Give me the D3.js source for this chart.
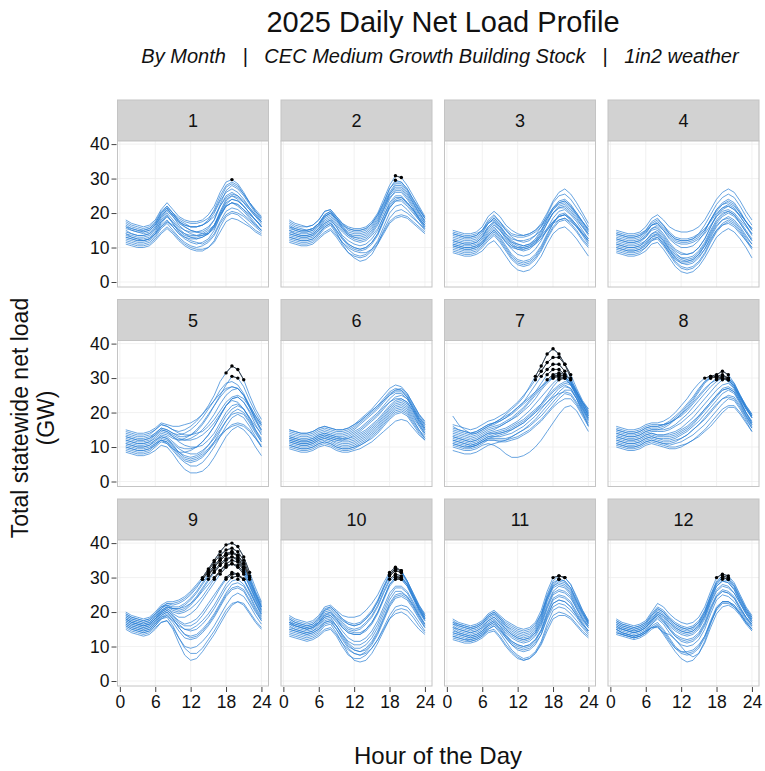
<!DOCTYPE html>
<html>
<head>
<meta charset="utf-8">
<script src="https://cdn.jsdelivr.net/npm/d3@7"></script>
<style>
  body { margin: 0; background: #fff; }
  text { font-family: "Liberation Sans", Arial, Helvetica, sans-serif; fill: #111; }
</style>
</head>
<body>
<svg id="chart" width="765" height="771"></svg>
<script>
// hourly values (GW), one row per day shown
const hours = [1,2,3,4,5,6,7,8,9,10,11,12,13,14,15,16,17,18,19,20,21,22,23,24];
const months = ["1","2","3","4","5","6","7","8","9","10","11","12"];
const yTicks = [0, 10, 20, 30, 40];
const xTicks = [0, 6, 12, 18, 24];
const peakLevel = 29.5; // points above this get a black dot

const m1 = [
  [18,17,16.5,16,16.5,18,21,23,21,19,18,17.5,17.5,18,19.5,22,26,29,29.7,28.5,26,23,21,19],
  [17,16,15.5,15,15.5,17,20,22,20,18,17,16,16,16.5,18,21,25,28,29,28,25.5,23,20.5,18.5],
  [16,15,14.5,14,14.5,16,19,21,19.5,17.5,16.5,16,16,16.5,17.5,20,23.5,26,27,26,24,21.5,19.5,17.5],
  [15,14,13.5,13.5,14,15.5,18,20,18,16,15,14.5,14.5,15,16,18,22,25,26,25,23,21,19,17],
  [14,13,12.5,12,12.5,14,17,19,17.5,15.5,14,13,12.5,13,14,16.5,20,23,24,23.5,22,20,18,16],
  [13,12.5,12,12,12.5,14,16.5,18,16,14,12.5,11.5,11,11.5,12.5,15,19,22,23,22,20.5,18.5,16.5,15],
  [13.5,13,12.5,12.5,13,14.5,17.5,19.5,17,14.5,13,12,11.5,11,12,14,17.5,20.5,21.5,21,19.5,18,16.5,15],
  [12,11.5,11,11,11.5,13,15.5,17,15,13,11.5,10.5,10,10.5,11.5,13.5,17,19.5,20.5,20,19,17.5,16,14.5],
  [16.5,15.5,15,15,15.5,17,20,21.5,19,16.5,15,14,13.5,13.5,14,16,20,23.5,25,24.5,23,21,19,17.5],
  [11,10.5,10,10,10.5,12,14,15.5,14,12,10.5,9.5,9,9,10,12,16,19,20,19.5,18,16.5,15,14],
  [14.5,14,13.5,13.5,14,15.5,18.5,20.5,19,17,16,15,14.5,14,14,15.5,19,22,23,22.5,21,19.5,18,16],
  [17.5,16.5,16,15.5,16,17.5,20.5,22,20,17.5,16,15,14.5,14.5,15.5,18,22.5,26.5,28,27,25,22.5,20,18],
  [12.5,12,11.5,11.5,12,13.5,16,17.5,16,14,13,12.5,12.5,13,14,16,19.5,22.5,24,23.5,22,20,18,16],
  [15.5,15,14.5,14.5,15,16.5,19,21,19.5,17.5,16.5,16,16,16.5,17.5,19,22,24.5,25.5,25,23.5,21.5,19.5,17.5],
  [16,15.5,15,14.5,15,16.5,19.5,21.5,20,18.5,17.5,17,17,17.5,18.5,20.5,24,27.5,28.5,27.5,25.5,23,20.5,18.5],
  [11.5,11,10.5,10.5,11,12.5,14.5,16,14.5,12.5,11,10,9.5,9.5,10,11.5,14.5,17.5,18.5,18,17,16,14.5,13.5],
  [14,13.5,13,13,13.5,15,17.5,19,17,15,13.5,13,13,13.5,14.5,16.5,20.5,24,25,24,22,20,18,16.5],
  [13,12.5,12,12,12.5,14,16,17.5,16.5,15,14,13.5,13.5,14,15,16.5,19.5,22,23,22.5,21,19,17,15]
];
const m2 = [
  [18,17,16.5,16,16.5,18,20.5,21,19,17,16,15.5,15.5,16,17.5,20,24,28,30.8,30.3,28,25,22,19],
  [17,16,15.5,15,15.5,17,19.5,20.5,18.5,16.5,15.5,15,15,15.5,17,19.5,23,27,29.5,29,27,24,21,18.5],
  [16,15,14.5,14.5,15,16.5,19,20,18,16,14.5,14,14,14.5,16,18.5,22,25.5,27.5,27.5,25.5,23,20,17.5],
  [15,14,13.5,13.5,14,15.5,18,19,17,15,13.5,13,13,13.5,15,17.5,21,24.5,26,26,24,21.5,19,17],
  [14,13.5,13,13,13.5,15,17,18,16,13.5,12,11,10.5,11,12.5,15,19,23,25,25,23,21,18.5,16.5],
  [13.5,13,12.5,12.5,13,14.5,16.5,17.5,15,12.5,11,10,9.5,10,11.5,14,18,21.5,23.5,23.5,22,20,18,16],
  [12.5,12,11.5,11.5,12,13.5,15.5,16.5,14,11.5,9.5,8,7.5,8,9.5,12,16,20,22,22.5,21,19,17,15.5],
  [13,12.5,12,12,12.5,14,16,17,14.5,11,8.5,7,6,6.5,8,11,15,18.5,20.5,21,20,18.5,17,15],
  [16.5,15.5,15,15,15.5,17,19.5,20.5,18.5,16,14,13,12.5,13,14.5,17,21,25,27,27,25,22.5,20,18],
  [12,11.5,11,11,11.5,13,14.5,15.5,13.5,11.5,10,9,8.5,8.5,9.5,11.5,14.5,17.5,19,19.5,19,17.5,16,14.5],
  [15.5,15,14.5,14.5,15,16.5,19,20,18,15.5,13.5,12.5,12,12.5,14,16.5,20,24,26.5,26.5,24.5,22,19.5,17],
  [14.5,14,13.5,13.5,14,15.5,17.5,18.5,16.5,14.5,13,12,11.5,12,13.5,15.5,19,22.5,24.5,24.5,23,21,18.5,16.5],
  [13,12.5,12,12,12.5,14,16,17,15,12.5,10.5,9.5,9,9.5,11,13.5,17.5,21.5,23.5,24,22.5,20.5,18,15.5],
  [15,14.5,14,14,14.5,16,18.5,19.5,17.5,15.5,14,13.5,13.5,14,15.5,18,21.5,25.5,28,28,26,23,20.5,17.5],
  [16,15.5,15,15,15.5,17,19,20,18.5,16.5,15,14.5,14.5,15,16.5,19,22.5,26,28.5,28.5,26.5,23.5,21,18.5],
  [11.5,11,10.5,10.5,11,12.5,14,15,13,10.5,8.5,7.5,7,7.5,9,11,14,17,18.5,19,18.5,17,15.5,14],
  [14,13.5,13,13,13.5,15,17,18,16,13,11,10,9.5,10,11.5,14,18,22,24,24.5,23,21,18.5,16],
  [17.5,16.5,16,16,16.5,18,20.5,21,19,17,15.5,15,15,15.5,17,19.5,23,27,29,29,27,24,21.5,18.5]
];
const m3 = [
  [15,14.5,14,14,14.5,16,19,20.5,19,16.5,15,14,13.5,14,15,17,20,23.5,26,27,25.5,23,20,17],
  [14,13.5,13,13,13.5,15,18,19.5,17.5,15,13,12,11.5,12,13.5,16,19.5,23,25,25.5,24,21.5,19,16],
  [13,12.5,12,12,12.5,14,17,18.5,16.5,14,12,11,10.5,11,12.5,15,18.5,21.5,23.5,24,22.5,20,17.5,15],
  [12,11.5,11,11,11.5,13,15.5,17,15,12.5,10.5,9.5,9,9.5,11,13.5,17,20,22,22.5,21,19,16.5,14],
  [11,10.5,10,10,10.5,12,14.5,16,14,11.5,9.5,8,7.5,8,9.5,12,15.5,18.5,20.5,21,19.5,17.5,15,12.5],
  [10,9.5,9,9,9.5,11,13.5,15,13,10.5,8,6.5,6,6.5,8,10.5,14,17,19,19.5,18,16,13.5,11],
  [9,8.5,8,8,8.5,10,12,13.5,11.5,9,6.5,5,4.5,5,6.5,9,12.5,15.5,17.5,18,16.5,14.5,12,10],
  [8.5,8,7.5,7.5,8,9,11,12,10,7.5,5,3.5,3,3.5,5,7.5,11,14,15.5,16,14.5,12.5,10,7.5],
  [12.5,12,11.5,11.5,12,13.5,16,17.5,15.5,13,11,10,9.5,10,11.5,14,17,20,21.5,21.5,20,18,16,14],
  [11.5,11,10.5,10.5,11,12.5,15,16.5,15,13,11.5,11,10.5,11,12,13.5,15.5,17.5,19,19.5,18,16,14,12],
  [10.5,10,9.5,9.5,10,11,13,14.5,12.5,10,7.5,6,5.5,6,7.5,10,13.5,17,19.5,20,18.5,16.5,14,11.5],
  [14.5,14,13.5,13.5,14,15,17,18.5,17,15,13.5,13,13,13.5,14.5,16,18.5,21,22.5,23,21.5,19.5,17.5,15.5],
  [13.5,13,12.5,12.5,13,14.5,17,18,16,13.5,11.5,10.5,10,10.5,12,14.5,18,21,23,23.5,22,19.5,17,14.5],
  [11,10.5,10,10,10.5,11.5,13.5,15,13.5,11.5,10,9.5,9.5,10,11,12.5,15,17.5,19,19.5,18.5,16.5,14.5,12.5],
  [12,11.5,11,11,11.5,13,16,17.5,16,14,12.5,12,12,12.5,13.5,15,17.5,20,21.5,22,20.5,18.5,16,13.5],
  [9.5,9,8.5,8.5,9,10.5,12.5,14,12,9.5,7,5.5,5,5.5,7,9.5,13,16,18,18.5,17,15,12.5,10.5],
  [14,13.5,13,13,13.5,15,17.5,19,17.5,15.5,14,13.5,13.5,14,15,16.5,19,21.5,23,23.5,22,20,17.5,15],
  [10.5,10,9.5,9.5,10,11.5,14,15.5,14,12,10.5,10,10,10.5,11.5,13,15,17,18,18.5,17.5,16,14,12]
];
const m4 = [
  [15,14.5,14,14,14.5,16,18.5,19.5,18,16,15,14.5,14.5,15,16,18,21,24,26,27,26,23.5,20.5,18],
  [14,13.5,13,13,13.5,15,17.5,18.5,16.5,14,12.5,12,12,12.5,14,16.5,19.5,22.5,24.5,25.5,24.5,22,19,16.5],
  [13,12.5,12,12,12.5,14,16.5,17,15,12.5,11,10,10,10.5,12,14.5,18,21,23,24,23,20.5,17.5,15],
  [12,11.5,11,11,11.5,13,15.5,16,14,11.5,9.5,8.5,8,8.5,10,12.5,16,19,21,22,21,19,16.5,14],
  [11,10.5,10,10,10.5,12,14,15,13,10.5,8.5,7,6.5,7,8.5,11,14.5,17.5,19.5,20.5,19.5,17.5,15,12.5],
  [10,9.5,9,9,9.5,11,13,14,12,9.5,7,5.5,5,5.5,7,9.5,13,16,18,19,18,16,13.5,11],
  [9,8.5,8,8,8.5,10,12,12.5,10.5,8,5.5,4,3.5,4,5.5,8,11.5,14.5,16.5,17.5,16.5,14.5,12,9.5],
  [8.5,8,7.5,7.5,8,9,11,11.5,9.5,7,4.5,3,2.5,3,4.5,7,10,13,14.5,15.5,14.5,12.5,10,7],
  [12.5,12,11.5,11.5,12,13.5,15.5,16.5,15,13,11.5,11,11,11.5,12.5,14,16.5,19,20.5,21,20,18,16,14],
  [11.5,11,10.5,10.5,11,12,14,14.5,12.5,10,8,7,7,7.5,9,11.5,15,18,20,20.5,19.5,17,14.5,12],
  [10,9.5,9,9,9.5,10.5,12.5,13,11,8.5,6.5,5.5,5.5,6,7.5,9.5,12.5,15,16.5,17,16,14,12,10],
  [14.5,14,13.5,13.5,14,15,17,18,16.5,14.5,13,12.5,12.5,13,14,15.5,17.5,20,21.5,22,21,19.5,17.5,15.5],
  [13.5,13,12.5,12.5,13,14.5,16.5,17.5,16,14,12.5,12,12,12.5,13.5,15,18,21,22.5,23.5,22.5,20,17.5,15],
  [11,10.5,10,10,10.5,11.5,13.5,14,12,9.5,7.5,6.5,6,6.5,8,10.5,14,17,19,20,19,17,14.5,12],
  [9.5,9,8.5,8.5,9,10,12,13,11,8.5,6,4.5,4,4.5,6,8.5,12,15,17,18,17,15,12.5,10],
  [12.5,12,11.5,11.5,12,13,15,15.5,13.5,11,9,8,8,8.5,10,12.5,16,19.5,21.5,22.5,21.5,19,16.5,13.5],
  [14,13.5,13,13,13.5,14.5,16.5,17,15.5,13.5,12,11.5,11.5,12,13,15,18,20.5,22.5,23,22,20,17.5,15.5],
  [10.5,10,9.5,9.5,10,11,13,13.5,11.5,9,7,6,6,6.5,8,10.5,13.5,16.5,18,18.5,17.5,15.5,13,11]
];
const m5 = [
  [14,13.5,13,13,13.5,15,16.5,16,15,14.5,15,16,17.5,19.5,22,25,29,31.5,33.5,32.5,29.5,25,21,18],
  [13,12.5,12,12,12.5,14,15.5,15,14,13.5,14,15,16.5,18.5,21,23.5,26.5,28.5,29,28,25.5,22,19,16.5],
  [12,11.5,11,11,11.5,13,14.5,14,13,12,12,12.5,13.5,15,17,19.5,22.5,25,26.5,27,25,21.5,18,15],
  [11,10.5,10,10,10.5,12,13.5,13,11.5,10,9.5,9.5,10,11.5,13.5,16,19,22,24,24.5,23,20,16.5,13.5],
  [10,9.5,9,9,9.5,11,12.5,12,10.5,8.5,7.5,7,7.5,8.5,10.5,13,16,19,21,22,21,18.5,15,12],
  [9,8.5,8,8,8.5,10,11.5,11,9,7,5.5,4.5,4.5,5.5,7.5,10,13,16,18.5,19.5,18.5,16,13,10],
  [8.5,8,7.5,7.5,8,9,10.5,10,8,5.5,3.5,2.5,2.5,3,4.5,7,10,13,15,16,15,13,10,7.5],
  [12.5,12,11.5,11.5,12,13.5,15,14.5,13,11.5,10.5,10,10,10.5,12,14,17,20,22,22.5,21,18.5,16,14],
  [14.5,14,13.5,13.5,14,15,16.5,16,15,14,13.5,13.5,14,14.5,16,18,20.5,23,24.5,25,24,21.5,18.5,16],
  [11.5,11,10.5,10.5,11,12,13,12.5,10.5,8.5,7,6.5,7,8,9.5,11.5,13.5,15,16,16.5,16,14.5,12.5,10.5],
  [10.5,10,9.5,9.5,10,11,12,11,9.5,8.5,8.5,9,10,11.5,13.5,16,19,22,23.5,23,21,18,15,12.5],
  [13.5,13,12.5,12.5,13,14,15.5,15,14,13,13,13.5,14.5,16.5,19,22,25,28,30.5,30,27.5,23.5,20,17],
  [12,11.5,11,11,11.5,12.5,14,13.5,12.5,12,12.5,13.5,15,17,19.5,22,24.5,26.5,27.5,27,25,21.5,18,15],
  [9.5,9,8.5,8.5,9,10.5,12,11.5,9.5,7.5,6,5.5,6,7,9,11.5,14.5,17.5,20,21,20,17.5,14.5,11.5],
  [15,14.5,14,14,14.5,15.5,17,16.5,16,16,16.5,17,18,19.5,21.5,23.5,25.5,27,27.5,27,25,22,19,16.5],
  [11,10.5,10,10,10.5,11.5,13,12.5,11,9.5,8.5,8,8,9,10.5,12.5,15,17.5,19.5,20,19.5,17,14,11.5],
  [13,12.5,12,12,12.5,13.5,15,14.5,13.5,12.5,12,12,12.5,13.5,15,17,19.5,22,24,24.5,23,20.5,17.5,14.5],
  [10,9.5,9,9,9.5,10.5,12,11.5,10,8,6.5,6,6.5,7.5,9,11,13,15,16.5,17,16.5,15,12.5,10]
];
const m6 = [
  [15,14.5,14,14,14.5,15.5,16,15.5,15,15,15.5,16.5,18,19.5,21,23,25,27,28,27.5,25.5,22.5,19.5,17.5],
  [14,13.5,13,13,13.5,14.5,15,14.5,14,14,14.5,15.5,17,18.5,20,21.5,23.5,25.5,26.5,26.5,25,22,19,16.5],
  [13,12.5,12,12,12.5,13.5,14,13.5,13,13,13.5,14.5,15.5,17,18.5,20,22,24,25.5,25.5,24,21,18,15.5],
  [12,11.5,11,11,11.5,12.5,13,12.5,12,11.5,11.5,12,13,14,15.5,17,19,21,22.5,23,22,19.5,16.5,14],
  [11,10.5,10,10,10.5,11.5,12,11.5,10.5,10,10,10.5,11.5,12.5,14,15.5,17.5,19.5,21,21.5,20.5,18,15,12.5],
  [10,9.5,9,9,9.5,10.5,11,10.5,9.5,9,9,9.5,10.5,11.5,12.5,14,16,18,19.5,20,19,16.5,14,12],
  [9.5,9,8.5,8.5,9,10,10.5,10,9,8.5,8.5,9,9.5,10.5,11.5,13,14.5,16,17.5,18,17.5,15.5,13.5,12],
  [12.5,12,11.5,11.5,12,13,13.5,13,12.5,12.5,13,14,15,16.5,18,19.5,21.5,23,24,24,23,20.5,17.5,15],
  [13.5,13,12.5,12.5,13,14,14.5,14,13.5,13.5,14,15,16.5,18,19.5,21,23,25,26.5,27,25.5,22.5,19.5,17],
  [11.5,11,10.5,10.5,11,12,12.5,12,11.5,11,11,11.5,12.5,13.5,15,16.5,18.5,20.5,22,22.5,21.5,19,16.5,14],
  [10.5,10,9.5,9.5,10,11,11.5,11,10,9.5,9.5,10,11,12,13.5,15,17,19,20.5,21,20,17.5,15,13],
  [14.5,14,13.5,13.5,14,15,15.5,15,14.5,14.5,15,16,17.5,19,20.5,22,24,26,27,26.5,24.5,21.5,18.5,16],
  [12,11.5,11,11,11.5,12.5,13,12.5,12,12,12.5,13.5,14.5,16,17.5,19,21,23,24.5,25,24,21,18,15.5],
  [13,12.5,12,12,12.5,13.5,14,13.5,13,12.5,12.5,13,14,15,16.5,18,20,22,23.5,24,23,20.5,17.5,15],
  [10.5,10,9.5,9.5,10,11,11.5,11,10,9.5,9.5,10,10.5,11.5,13,14.5,16.5,18.5,20,20.5,19.5,17,14.5,12.5],
  [15,14.5,14,14,14.5,15.5,16,15.5,15,15,15.5,16.5,17.5,19,20.5,22,23.5,25,26,26,24.5,21.5,18.5,16.5],
  [11.5,11,10.5,10.5,11,12,12.5,12,11,10.5,10.5,11,12,13,14.5,16,18,20,21.5,22,21,18.5,16,13.5],
  [12.5,12,11.5,11.5,12,13,13.5,13,12.5,12,12,12.5,13.5,14.5,16,17.5,19.5,21.5,23,23.5,22.5,20,17,14.5]
];
const m7 = [
  [16,15,14.5,14,14.5,15.5,16.5,17,18,19.5,21,22.5,24.5,27.5,30.5,33.5,37,38.5,37,34,30,26,23,20],
  [15,14.5,14,13.5,14,15,16,16.5,17.5,18.5,20,21.5,23,25.5,28,30.5,32.5,34,34,32,29,25.5,22,19.5],
  [14,13.5,13,12.5,13,14,15,15.5,16,17,18,19.5,21,23,25,27,29,30.5,31,30.5,28.5,25,21.5,18.5],
  [13,12.5,12,11.5,12,13,14,14.5,15,15.5,16.5,17.5,19,20.5,22.5,24.5,26.5,28.5,30,30,28,24.5,21,18],
  [12,11.5,11,10.5,11,12,13,13,13,13.5,14,15,16,17.5,19,21,23,25,27,28,27,24,20.5,17.5],
  [11,10.5,10,10,10.5,11.5,12,12,12,12,12.5,13,14,15,16.5,18,20,22,24,25.5,25,22.5,19.5,16.5],
  [10,9.5,9,9,9.5,10.5,11,10.5,9.5,8,7,7,7.5,8.5,10,12,14.5,17,19.5,21.5,22,20.5,17.5,14.5],
  [19,16.5,15,14,14,15,16,17,18,19,20,21.5,23,24.5,26,27.5,29,30,30.5,30,28,25.5,23,21],
  [9,8.5,8,8,8.5,9.5,10.5,11,11.5,12,13,14,15,16.5,18,20,22,24,26,27.5,27,24,20,16],
  [12.5,12,11.5,11,11.5,12.5,13.5,14,14.5,15,16,17,18,19.5,21,22.5,24.5,26.5,28,29,28.5,26,22.5,19.5],
  [13.5,13,12.5,12,12.5,13.5,14.5,15,16,17,18,19,20.5,22,24,26.5,28.5,30,31,30.5,28.5,25,22,19],
  [15.5,15,14.5,14,14.5,15.5,16.5,17,17.5,18.5,19.5,21,22.5,24,26,28.5,31,32.5,32.5,31,29,26,23,20.5],
  [11.5,11,10.5,10,10.5,11.5,12.5,12.5,12.5,12.5,13,14,15,16,17.5,19,21,23,25,26.5,26.5,24,21,18],
  [14.5,14,13.5,13,13.5,14.5,15.5,16,16.5,17.5,18.5,20,21.5,23.5,25.5,27.5,29.5,31,31.5,31,29.5,26.5,23,20],
  [12,11.5,11,10.5,11,12,13,13.5,14,14.5,15.5,16.5,17.5,19,20.5,22.5,25,27.5,29.5,30,29,26,22.5,19],
  [13,12.5,12,11.5,12,13,14,14,14,14.5,15,16,17,18.5,20,22,24,26,27.5,28.5,28,25,21.5,18.5],
  [10.5,10,9.5,9.5,10,11,12,12,11.5,11.5,12,12.5,13.5,14.5,16,17.5,19.5,21.5,23,24,24,22,19,16],
  [16.5,16,15.5,15,15.5,16.5,17.5,18,19,20,21.5,23,25,27,29.5,32,34.5,36,36,34,31,27,23.5,21],
  [11,10.5,10,10,10.5,11.5,12.5,13,13.5,14,15,16,17,18.5,20,21.5,23,24.5,25.5,26,25.5,23,20,17]
];
const m8 = [
  [16,15.5,15,15,15.5,16.5,17,17,17.5,18.5,20,22,24,26.5,28.5,30,30.5,31,32,31,28.5,25,22,19.5],
  [15,14.5,14,14,14.5,15.5,16,16,16.5,17.5,19,20.5,22.5,24.5,27,29,30,30.5,31,30,28,24.5,21.5,19],
  [14,13.5,13,13,13.5,14.5,15,15,15,15.5,16.5,18,19.5,21.5,23.5,25.5,27.5,29,30,29.5,27.5,24,21,18.5],
  [13,12.5,12,12,12.5,13.5,14,13.5,13.5,14,14.5,15.5,17,18.5,20.5,22.5,24.5,26.5,28,28.5,27,23.5,20,17.5],
  [12,11.5,11,11,11.5,12.5,13,12.5,12,12,12.5,13.5,14.5,16,17.5,19.5,21.5,23.5,25.5,26.5,25.5,22.5,19,16.5],
  [11,10.5,10,10,10.5,11.5,12,11.5,11,10.5,11,11.5,12.5,13.5,15,16.5,18.5,20.5,22.5,24,23.5,21,18,15.5],
  [10.5,10,9.5,9.5,10,11,11.5,11,10.5,10,10,10.5,11,12,13,14.5,16,18,20,21.5,21.5,19.5,17,14.5],
  [14.5,14,13.5,13.5,14,15,15.5,15.5,16,17,18.5,20,22,24,26.5,29,30.5,30,30,29.5,27.5,24.5,21.5,19],
  [13.5,13,12.5,12.5,13,14,14.5,14.5,14.5,15,16,17,18.5,20,22,24,26,28,29.5,30,28.5,25,21.5,18.5],
  [12.5,12,11.5,11.5,12,13,13.5,13,13,13,13.5,14.5,15.5,17,19,21,23,25,27,27.5,26.5,23.5,20,17],
  [11.5,11,10.5,10.5,11,12,12.5,12,11.5,11.5,12,12.5,13.5,15,16.5,18,20,22,24,25,24.5,22,19,16],
  [15.5,15,14.5,14.5,15,16,16.5,16.5,16.5,17,18,19,20.5,22.5,24.5,26.5,28.5,30,30.5,30,28,25,22,19.5],
  [14,13.5,13,13,13.5,14.5,15,15,15.5,16.5,18,19.5,21.5,23.5,26,28.5,30,30.5,30,29,27,24,21,18.5],
  [12,11.5,11,11,11.5,12.5,13,12.5,12.5,12.5,13,14,15,16.5,18.5,20.5,22.5,24.5,26.5,27,26,23,19.5,16.5],
  [13,12.5,12,12,12.5,13.5,14,13.5,13.5,13.5,14,15,16,17.5,19,21,23,25,26.5,27,26,23,20,17],
  [11,10.5,10,10,10.5,11.5,12,11.5,11,11,11.5,12.5,13.5,15,16.5,18.5,20.5,22.5,24,24.5,24,21.5,18.5,15.5],
  [15,14.5,14,14,14.5,15.5,16,16,16.5,17,18,19.5,21,23,25,27,28.5,29.5,30,29.5,27.5,24.5,21.5,19],
  [10,9.5,9,9,9.5,10.5,11,10.5,10,9.5,9.5,10,11,12,13.5,15,17,19,21,22,22,20,17.5,14.5]
];
const m9 = [
  [20,19,18.5,18,18.5,20,22,23,23,23.5,24.5,26,28,30,32.5,35,37.5,39.5,40,39,36,31.5,27,23],
  [19.5,18.5,18,17.5,18,19.5,21.5,22.5,22,22.5,23.5,25,27,29.5,32,34.5,36.5,38,38.5,37.5,35,30.5,26,22.5],
  [19,18,17.5,17,17.5,19,21,22,21.5,21.5,22.5,24,26,28.5,31,33,35,36.5,37.5,36.5,34,30,25.5,22],
  [18.5,17.5,17,16.5,17,18.5,20.5,21.5,20.5,20,20.5,22,24,26.5,29,31.5,33.5,35,36,35.5,33,29,25,21.5],
  [18,17,16.5,16,16.5,18,20,21,19.5,18.5,18.5,19.5,21,23.5,26,28.5,31,33,34,33.5,31.5,27.5,24,20.5],
  [17.5,16.5,16,15.5,16,17.5,19.5,20.5,19,17.5,16.5,17,18,20,22.5,25,27.5,30,31.5,31,29.5,26,22.5,19.5],
  [17,16,15.5,15,15.5,17,19,20,18.5,16.5,15,14.5,15,16.5,18.5,21,24,27,29,29.5,28,25,21.5,18.5],
  [16.5,15.5,15,14.5,15,16.5,18.5,19,17,14.5,12.5,12,12.5,14,16,18.5,21.5,24.5,26.5,27,26,23,20,17.5],
  [16,15,14.5,14,14.5,16,18,18.5,16,12.5,10,9.5,10,11.5,13.5,16,19,22,24.5,25.5,24.5,22,19,16.5],
  [15.5,14.5,14,13.5,14,15.5,17,17.5,15,11,7.5,6,6.5,8.5,11,13.5,16.5,19.5,22,23,22.5,20,17.5,15.5],
  [19,18,17.5,17,17.5,19,21,22.5,22.5,23,24,25.5,27.5,29.5,31.5,33.5,35.5,37,37.5,36,33,29,25,21.5],
  [18,17,16.5,16,16.5,18,20,21,20,19.5,20,21,22.5,24.5,27,29.5,32,34,35,34.5,32,28,24,20.5],
  [17,16,15.5,15,15.5,17,19,20,18,15.5,13.5,13,13.5,15,17,19.5,22.5,25.5,28,28.5,27.5,24.5,21,18],
  [16,15,14.5,14,14.5,16,18,19,17.5,16,15,15,16,17.5,19.5,22,25,28,30,30.5,29.5,26.5,23,19.5],
  [18.5,17.5,17,16.5,17,18.5,20.5,21.5,21,21,22,23.5,25.5,28,30.5,33,35,36.5,37,36.5,34,29.5,25.5,21.5],
  [17.5,16.5,16,15.5,16,17.5,19.5,20.5,19,17,16,16,17,19,21.5,24,27,29.5,31,31,29.5,26,22.5,19],
  [16.5,15.5,15,14.5,15,16.5,18.5,19.5,18,15.5,13.5,12.5,13,14.5,16.5,19,22,25,27,27.5,26.5,23.5,20.5,17.5],
  [19.5,18.5,18,17.5,18,19.5,21.5,22,21,20.5,21,22.5,24.5,27,29.5,32,34,35.5,36,35,32.5,28.5,24.5,21],
  [15,14,13.5,13,13.5,15,17,17.5,15.5,12.5,9.5,8,8,9.5,12,14.5,17.5,20.5,22.5,23,22,19.5,17,15],
  [18,17,16.5,16,16.5,18,20,21.5,21,21,21.5,22.5,24,26,28,30,32,33.5,34,33,31,27.5,23.5,20]
];
const m10 = [
  [19,18,17.5,17,17.5,19,21.5,22,20.5,19,18.5,18.5,19,20.5,22.5,25,28.5,31.5,33,32,29,25.5,22,19.5],
  [18,17,16.5,16,16.5,18,20.5,21,19.5,17.5,16.5,16,16.5,18,20,23,27,30.5,32,31.5,28.5,25,21.5,19],
  [17.5,16.5,16,15.5,16,17.5,20,20.5,19,17,15.5,15,15.5,17,19,22,26,29.5,31,30.5,28,24.5,21,18.5],
  [17,16,15.5,15,15.5,17,19,20,18,15.5,14,13.5,13.5,15,17,20,24,28,30,29.5,27.5,24,20.5,18],
  [16.5,15.5,15,14.5,15,16.5,18.5,19,17,14.5,12.5,11.5,11.5,12.5,14.5,17.5,21.5,25.5,27.5,27.5,26,23,20,17.5],
  [16,15,14.5,14,14.5,16,18,18.5,16,13.5,11,9.5,9.5,10.5,12.5,15.5,19.5,23.5,26,26,24.5,22,19,16.5],
  [15,14.5,14,13.5,14,15,17,17.5,15,12,9.5,8,7.5,8.5,10.5,13.5,17.5,21.5,24,24.5,23.5,21,18,15.5],
  [14,13.5,13,12.5,13,14,16,16.5,14,11,8,6,5.5,6,8,11,14.5,18,20.5,21,20.5,18.5,16,14],
  [18.5,17.5,17,16.5,17,18.5,21,21.5,20,18,17,16.5,17,18.5,20.5,23.5,27.5,31,32.5,32,29,25.5,22,19],
  [15.5,15,14.5,14,14.5,15.5,17.5,18,16,13,10.5,9,8.5,9.5,11.5,14.5,18.5,22.5,25,25.5,24.5,22,19,16],
  [13.5,13,12.5,12,12.5,13.5,15,15.5,13.5,11,9,8,7.5,8,9.5,12,15,18,19.5,20,19,17,15,13.5],
  [17,16,15.5,15,15.5,17,19.5,20,18.5,16.5,15,14.5,15,16.5,18.5,21.5,25.5,29,30.5,30,28,24.5,21,18],
  [16.5,16,15.5,15,15.5,16.5,18.5,19,17.5,15.5,14,13.5,13.5,14.5,16.5,19.5,23.5,27.5,29.5,29.5,27.5,24,20.5,17.5],
  [15,14.5,14,13.5,14,15,17,17.5,16,13.5,11.5,10.5,10.5,11.5,13.5,16.5,20.5,24.5,27,27,25.5,22.5,19.5,16.5],
  [14.5,14,13.5,13,13.5,14.5,16.5,17,15,12.5,10,9,8.5,9,11,14,18,22,24.5,25,24,21.5,18.5,15.5],
  [18,17,16.5,16,16.5,18,20.5,21.5,20,18,16.5,16,16.5,18,20,23,27,30.5,32,31.5,29,25,21.5,18.5],
  [13,12.5,12,11.5,12,13,14.5,15,13,10,7.5,6.5,6.5,7.5,9.5,12,15.5,19,21.5,22,21.5,19.5,17,14.5],
  [17,16.5,16,15.5,16,17,19,19.5,18,16,14.5,14,14,15,17,20,24,28,30,30,28,24.5,21,18]
];
const m11 = [
  [18,17,16.5,16,16.5,17.5,19.5,20.5,19,17.5,16.5,15.5,15,15.5,17,20.5,26,30,30.5,30,28,24.5,20.5,17.5],
  [17,16,15.5,15,15.5,16.5,18.5,19.5,18,16,15,14,13.5,14,15.5,19,24.5,28.5,29.5,29,27,23.5,20,17],
  [16,15,14.5,14,14.5,15.5,17.5,18.5,17,15,13.5,12.5,12,12.5,14,17.5,23,27,28,27.5,25.5,22,19,16.5],
  [15.5,14.5,14,13.5,14,15,17,18,16.5,14.5,13,12,11.5,12,13.5,16.5,21.5,25.5,26.5,26,24.5,21,18,16],
  [15,14,13.5,13,13.5,14.5,16.5,17.5,16,13.5,11.5,10.5,10,10.5,12,15,20,24,25,24.5,23,20,17.5,15.5],
  [14,13.5,13,12.5,13,14,16,17,15,12.5,10.5,9,8.5,9,10.5,13.5,18.5,22.5,23.5,23,21.5,19,16.5,14.5],
  [13,12.5,12,12,12.5,13.5,15,16,14,11.5,9,7.5,6.5,7,8.5,11.5,16.5,20.5,21.5,21,19.5,17.5,15.5,13.5],
  [12.5,12,11.5,11.5,12,13,14.5,15,13,10.5,8.5,7,6,6.5,8,11,15.5,19,20,19.5,18.5,16.5,14.5,13],
  [17.5,16.5,16,15.5,16,17,19,20,18.5,16.5,15.5,14.5,14,14.5,16,19.5,25,29,30.5,30,28,24,20.5,17.5],
  [14.5,14,13.5,13,13.5,14.5,16.5,17.5,16,14,12.5,11.5,11,11.5,13,16,21,25,26,25.5,24,21,18,15.5],
  [13.5,13,12.5,12,12.5,13.5,15.5,16.5,15,13,11.5,10.5,10,10.5,12,14.5,19,22.5,23.5,23,21.5,19,16.5,14.5],
  [16.5,15.5,15,14.5,15,16,18,19,17.5,15.5,14,13,12.5,13,14.5,18,23.5,27.5,28.5,28,26,22.5,19.5,16.5],
  [15.5,15,14.5,14,14.5,15.5,17.5,18.5,17,15,13.5,12.5,12,12.5,14,17,22,26,27.5,27,25,21.5,18.5,16],
  [14,13.5,13,12.5,13,14,16,17,15.5,13,11,10,9.5,10,11.5,14.5,19.5,23.5,24.5,24,22.5,19.5,17,14.5],
  [12,11.5,11,11,11.5,12.5,14,14.5,12.5,10,8,6.5,6,6.5,8,10.5,14.5,18,19,19,18,16,14,12.5],
  [16.5,16,15.5,15,15.5,16.5,18.5,19.5,18,16,14.5,13.5,13,13.5,15,18.5,24,28,29.5,29,27,23,19.5,17],
  [13,12.5,12,11.5,12,13,15,16,14.5,12.5,10.5,9.5,9,9.5,11,13.5,18,21.5,22.5,22,20.5,18.5,16,14],
  [17,16.5,16,15.5,16,17,19,20,18.5,17,16,15,14.5,15,16.5,19.5,24,27.5,29,28.5,26.5,23,20,17]
];
const m12 = [
  [18,17,16.5,16,16.5,17.5,20,22.5,21.5,19.5,18,17,16.5,17,18.5,21.5,26,30,31,30.5,28.5,25,21.5,19],
  [17.5,16.5,16,15.5,16,17,19.5,21.5,20.5,18.5,17,16,15.5,16,17.5,20.5,25,29,30.5,30,28,24.5,21,18.5],
  [17,16,15.5,15,15.5,16.5,18.5,20.5,19.5,17.5,16,15,14.5,15,16.5,19.5,24,28,29.5,29,27,23.5,20.5,18],
  [16,15,14.5,14,14.5,15.5,17.5,19.5,18.5,16.5,15,14,13.5,14,15.5,18.5,23,26.5,28,27.5,25.5,22.5,19.5,17],
  [15.5,14.5,14,13.5,14,15,17,19,17.5,15.5,13.5,12.5,12,12.5,14,17,21.5,25,26.5,26,24.5,21.5,18.5,16.5],
  [15,14,13.5,13,13.5,14.5,16.5,18,16.5,14,12,10.5,10,10.5,12,15,19.5,23.5,25,24.5,23,20.5,18,16],
  [14.5,13.5,13,12.5,13,14,16,17,15,12.5,10,8.5,8,8.5,10,13,17.5,21.5,23,23,21.5,19.5,17,15],
  [14,13.5,13,12.5,13,14,15.5,16,13.5,11,8.5,6.5,5.5,6,8,11,15.5,19.5,21.5,22,21,19,16.5,14.5],
  [16.5,15.5,15,14.5,15,16,18,20,19,17,15.5,14.5,14,14.5,16,19,23.5,27.5,29,28.5,26.5,23,20,17.5],
  [15,14,13.5,13,13.5,14.5,15.5,15.5,14,13.5,12,10,8,7,8,11.5,16.5,21,23,23,22,20,17.5,15.5],
  [17.5,16.5,16,15.5,16,17,19,21,20,18,16.5,15.5,15,15.5,17,20,24.5,28.5,30,29.5,27.5,24,20.5,18],
  [16,15,14.5,14,14.5,15.5,17.5,19,17.5,15,13,11.5,11,11.5,13,16,20.5,24.5,26,25.5,24,21,18.5,16.5],
  [16.5,15.5,15,14.5,15,16,18,20,19,17,15.5,14.5,14,14.5,16,19,23.5,27.5,29,28.5,26.5,23,20,17.5],
  [15,14,13.5,13,13.5,14.5,16.5,18.5,17,15,13,12,11.5,12,13.5,16.5,21,24.5,26,25.5,24,21,18.5,16],
  [14,13.5,13,12.5,13,14,15.5,16.5,14.5,12,9.5,8,7.5,8,9.5,12.5,17,21,23,23,22,19.5,17,15],
  [17,16,15.5,15,15.5,16.5,19,21,20,18,16.5,15.5,15,15.5,17,20,24.5,28.5,30,29.5,27.5,24,21,18.5],
  [13.5,13,12.5,12,12.5,13.5,15,16,14,11.5,9.5,8.5,8.5,9,10.5,13,17,20.5,22.5,22.5,21.5,19.5,17,15],
  [15.5,15,14.5,14,14.5,15.5,17.5,19.5,18,16,14.5,13.5,13,13.5,15,18,22.5,26,27.5,27,25.5,22.5,19.5,17]
];
const monthDays = [m1, m2, m3, m4, m5, m6, m7, m8, m9, m10, m11, m12];

const svg = d3.select("#chart");

const colLeft = [117.5, 281, 444.5, 608];
const rowTop = [100, 299.5, 499];
const panelW = 151, stripH = 41, plotH = 146;

const x = d3.scaleLinear().domain([-0.4, 25.2]).range([0, panelW]);
const y = d3.scaleLinear().domain([-1.45, 40.9]).range([plotH, 0]);

const line = d3.line()
  .x((d, i) => x(hours[i]))
  .y(d => y(d));

months.forEach((m, k) => {
  const row = Math.floor(k / 4), col = k % 4;
  const g = svg.append("g")
    .attr("transform", `translate(${colLeft[col]},${rowTop[row]})`);

  // strip
  g.append("rect")
    .attr("width", panelW).attr("height", stripH)
    .attr("fill", "#d2d2d2").attr("stroke", "#c4c4c4");
  g.append("text")
    .attr("x", panelW / 2).attr("y", stripH / 2 + 6.5)
    .attr("text-anchor", "middle")
    .style("font-size", "18px")
    .text(m);

  const p = g.append("g").attr("transform", `translate(0,${stripH})`);
  p.append("rect")
    .attr("width", panelW).attr("height", plotH)
    .attr("fill", "#fff");

  // faint grid
  p.selectAll(".gy").data(yTicks).join("line")
    .attr("x1", 0).attr("x2", panelW)
    .attr("y1", d => y(d)).attr("y2", d => y(d))
    .attr("stroke", "#eeeeee").attr("stroke-width", 0.8);
  p.selectAll(".gx").data(xTicks).join("line")
    .attr("y1", 0).attr("y2", plotH)
    .attr("x1", d => x(d)).attr("x2", d => x(d))
    .attr("stroke", "#eeeeee").attr("stroke-width", 0.8);

  const days = monthDays[k];
  p.selectAll("path.day").data(days).join("path")
    .attr("class", "day")
    .attr("d", line)
    .attr("fill", "none")
    .attr("stroke", "#2a7fd4")
    .attr("stroke-opacity", 0.7)
    .attr("stroke-width", 1);

  // dark segments and dots where the load is at peak level
  const segs = [], dots = [];
  days.forEach(day => {
    day.forEach((v, i) => {
      if (v >= peakLevel) {
        dots.push([hours[i], v]);
        if (i > 0 && day[i - 1] >= peakLevel) segs.push([[hours[i - 1], day[i - 1]], [hours[i], v]]);
      }
    });
  });
  p.selectAll("line.seg").data(segs).join("line")
    .attr("class", "seg")
    .attr("x1", d => x(d[0][0])).attr("y1", d => y(d[0][1]))
    .attr("x2", d => x(d[1][0])).attr("y2", d => y(d[1][1]))
    .attr("stroke", "#444").attr("stroke-width", 1);
  p.selectAll("circle").data(dots).join("circle")
    .attr("cx", d => x(d[0])).attr("cy", d => y(d[1]))
    .attr("r", 1.7).attr("fill", "#000");

  p.append("rect")
    .attr("width", panelW).attr("height", plotH)
    .attr("fill", "none").attr("stroke", "#c4c4c4");

  if (col === 0) {
    const ay = p.append("g").call(d3.axisLeft(y).tickValues(yTicks).tickSize(5).tickPadding(3));
    ay.select(".domain").remove();
    ay.selectAll(".tick line").attr("stroke", "#444").attr("transform", "translate(-1,0)");
    ay.selectAll(".tick text").style("font-size", "17.5px").attr("fill", "#111");
  }
  if (row === 2) {
    const ax = p.append("g").attr("transform", `translate(0,${plotH})`)
      .call(d3.axisBottom(x).tickValues(xTicks).tickSize(5).tickPadding(5));
    ax.select(".domain").remove();
    ax.selectAll(".tick line").attr("stroke", "#444").attr("transform", "translate(0,1)");
    ax.selectAll(".tick text").style("font-size", "17.5px").attr("fill", "#111");
  }
});

// titles
svg.append("text")
  .attr("x", 443).attr("y", 32)
  .attr("text-anchor", "middle")
  .style("font-size", "29px")
  .text("2025 Daily Net Load Profile");
svg.append("text")
  .attr("x", 440).attr("y", 63)
  .attr("text-anchor", "middle")
  .style("font-size", "20px").style("font-style", "italic")
  .attr("xml:space", "preserve")
  .text("By Month   |   CEC Medium Growth Building Stock   |   1in2 weather");
svg.append("text")
  .attr("x", 438).attr("y", 764)
  .attr("text-anchor", "middle")
  .style("font-size", "24px")
  .text("Hour of the Day");
const yt = svg.append("text")
  .attr("transform", "translate(28,418) rotate(-90)")
  .attr("text-anchor", "middle")
  .style("font-size", "23px");
yt.append("tspan").attr("x", 0).attr("dy", 0).text("Total statewide net load");
yt.append("tspan").attr("x", 0).attr("dy", 26).text("(GW)");
</script>
</body>
</html>
